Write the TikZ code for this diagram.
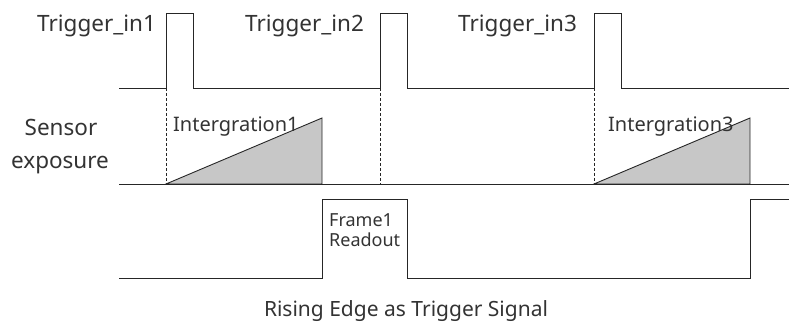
\documentclass[tikz,border=0pt]{standalone}
\usepackage{fontspec}
\setmainfont{Noto Sans}
\begin{document}
\begin{tikzpicture}[x=1pt,y=-1pt,
  sig/.style={draw=black!85, line width=0.9pt},
  guide/.style={draw=black!85, line width=0.7pt, dash pattern=on 3pt off 2pt},
  ramp/.style={draw=black!85, line width=0.9pt, fill=black!22},
  big/.style={font=\fontsize{22.5}{26}\selectfont, text=black!80, inner sep=0pt},
  mid/.style={font=\fontsize{20}{24}\selectfont, text=black!80, inner sep=0pt},
  small/.style={font=\fontsize{18}{21}\selectfont, text=black!80, inner sep=0pt, align=left},
  capt/.style={font=\fontsize{21}{24}\selectfont, text=black!80, inner sep=0pt}]
\useasboundingbox (0,0) rectangle (789,323);
% coordinates
\coordinate (t0) at (119,88);
\coordinate (r1) at (166,88); \coordinate (f1) at (193,88);
\coordinate (r2) at (380,88); \coordinate (f2) at (407,88);
\coordinate (r3) at (594,88); \coordinate (f3) at (621,88);
\coordinate (tend) at (789,88);
\coordinate (e0) at (119,184); \coordinate (eend) at (789,184);
\coordinate (e1) at (166,184); \coordinate (e2) at (380,184); \coordinate (e3) at (594,184);
% trigger
\draw[sig] (t0) -- (r1) |- (f1 |- 0,13) -- (f1) -- (r2) |- (f2 |- 0,13) -- (f2) -- (r3) |- (f3 |- 0,13) -- (f3) -- (tend);
% guides
\draw[guide] (r1) -- (e1);
\draw[guide] (r2) -- (e2);
\draw[guide] (r3) -- (e3);
% ramps
\draw[ramp] (e1) -- (322,118) -- (322,184) -- cycle;
\draw[ramp] (e3) -- (750,118) -- (750,184) -- cycle;
% exposure baseline
\draw[sig] (e0) -- (eend);
% readout
\coordinate (d0) at (119,278);
\draw[sig] (d0) -- (322,278) -- (322,199) -- (407,199) -- (407,278) -- (750,278) -- (750,199) -- (789,199);
% texts
\node[big, anchor=base west] (l1) at (37,32) {Trigger\_in1};
\node[big, anchor=base west] (l2) at (245,32) {Trigger\_in2};
\node[big, anchor=base west] (l3) at (458,32) {Trigger\_in3};
\node[big, anchor=base] (s1) at (61,136) {Sensor};
\node[big, anchor=base] (s2) at (60,168) {exposure};
\node[mid, anchor=base west] (i1) at (173,132) {Intergration1};
\node[mid, anchor=base west] (i3) at (608,132) {Intergration3};
\node[small, anchor=base west] (fr) at (329,226) {Frame1};
\node[small, anchor=base west] (ro) at (329,246) {Readout};
\node[capt, anchor=base] (cap) at (406,316) {Rising Edge as Trigger Signal};
\end{tikzpicture}
\end{document}
